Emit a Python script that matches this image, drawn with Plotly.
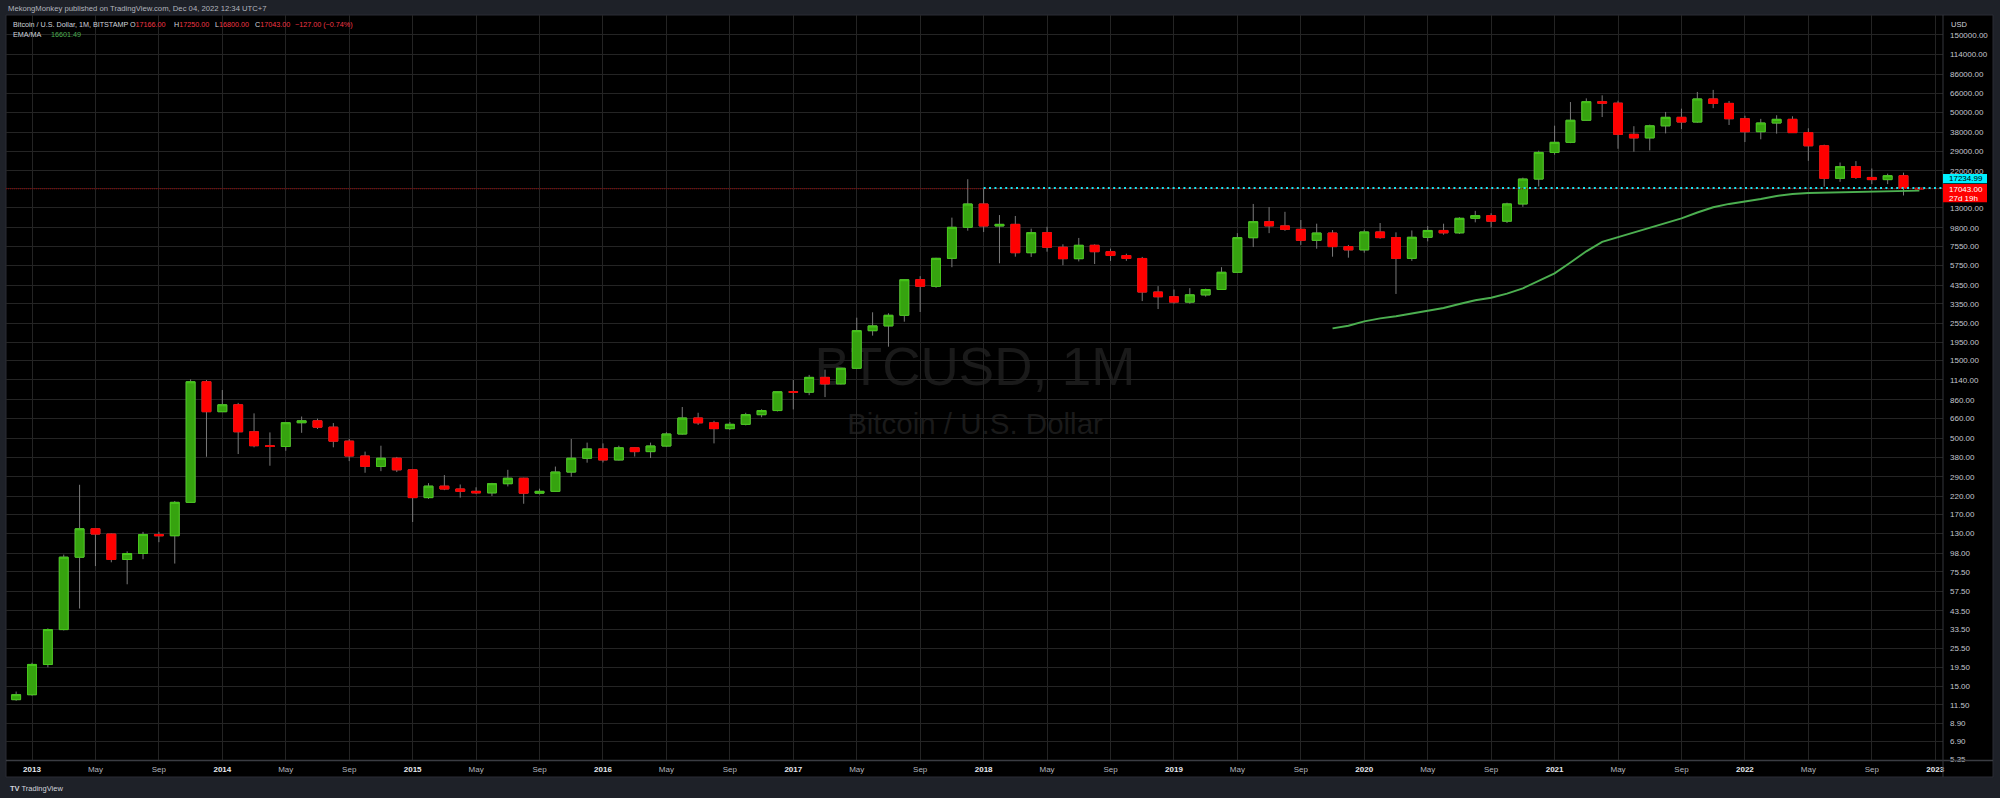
import plotly.graph_objects as go

# ---------------- data ----------------
months = [f"{y}-{m:02d}" for y in range(2012, 2023) for m in range(1, 13)][11:]  # 2012-12 .. 2022-12

opens = [12.4, 13.3, 20.4, 33.4, 93.0, 139, 129, 90, 98, 128,
         126, 202, 1112, 728, 803, 548, 450, 445, 623, 640,
         585, 480, 389, 336, 377, 320, 216, 254, 244, 236,
         231, 263, 284, 230, 236, 310, 377, 430, 368, 437,
         414, 448, 531, 666, 622, 573, 609, 698, 740, 965,
         960, 1183, 1079, 1346, 2290, 2450, 2846, 4710, 4290, 6370,
         9880, 13740, 10070, 10300, 6900, 9160, 7450, 6340, 7660, 7000,
         6630, 6360, 3955, 3700, 3430, 3800, 4100, 5230, 8530, 10700,
         10080, 9600, 8220, 9110, 7520, 7180, 9250, 8540, 6370, 8580,
         9450, 9140, 11220, 11650, 10780, 13750, 19550, 28500, 32870, 44900,
         58400, 57200, 36800, 35000, 41500, 46800, 43800, 60700, 57000, 45900,
         38200, 43200, 45500, 37700, 31300, 19760, 23300, 20000, 19400, 20500,
         17166]

highs = [13.9, 20.9, 34.0, 96.5, 259, 140, 130, 101, 133, 133,
         206, 1150, 1140, 989, 825, 711, 543, 630, 680, 660,
         620, 495, 414, 450, 384, 322, 265, 297, 260, 250,
         266, 320, 286, 245, 335, 495, 470, 465, 450, 440,
         470, 545, 778, 717, 640, 629, 717, 753, 970, 1140,
         1225, 1320, 1350, 2752, 2970, 2930, 4750, 4950, 6420, 11330,
         19500, 17150, 11750, 11600, 9700, 9950, 7770, 8500, 7770, 7300,
         6800, 6500, 4300, 4100, 4180, 4150, 5620, 9100, 13750, 13150,
         12300, 10950, 10400, 9500, 7700, 9550, 10500, 9200, 9450, 10050,
         10400, 11400, 12470, 12050, 14000, 19950, 29200, 41600, 58100, 61200,
         63900, 59200, 41300, 42200, 50500, 52900, 67000, 69000, 59000, 47900,
         45800, 48200, 47500, 40100, 31800, 24700, 25200, 22700, 21100, 21400,
         17250]

lows = [12.2, 13.1, 19.6, 33.0, 45, 82, 86.5, 63.4, 90.4, 115,
        85, 201, 385, 728, 400, 440, 339, 419, 540, 570,
        440, 362, 307, 314, 310, 153, 212, 240, 216, 227,
        221, 253, 198, 226, 234, 290, 354, 355, 365, 386,
        378, 443, 526, 604, 465, 562, 600, 673, 731, 752,
        920, 895, 1070, 1340, 2135, 1826, 2600, 2985, 4200, 5620,
        9420, 9250, 5940, 6520, 6500, 7000, 5780, 6100, 5880, 6140,
        6150, 3480, 3110, 3350, 3350, 3705, 4100, 5230, 7470, 9100,
        9400, 7700, 7300, 6520, 6430, 6900, 8400, 3850, 6150, 8100,
        8900, 8990, 10600, 9850, 10500, 13200, 17600, 27600, 32500, 44600,
        47000, 30000, 28800, 29300, 37300, 39600, 43300, 53300, 42000, 33000,
        34300, 37200, 37600, 25300, 17540, 18800, 19600, 18200, 18200, 15500,
        16800]

closes = [13.3, 20.4, 33.4, 93.0, 139, 129, 90, 98, 128, 126,
          202, 1112, 728, 803, 548, 450, 445, 623, 640, 585,
          480, 389, 336, 377, 320, 216, 254, 244, 236, 231,
          263, 284, 230, 236, 310, 377, 430, 368, 437, 414,
          448, 531, 666, 622, 573, 609, 698, 740, 965, 960,
          1183, 1079, 1346, 2290, 2450, 2846, 4710, 4290, 6370, 9880,
          13740, 10070, 10300, 6900, 9160, 7450, 6340, 7660, 7000, 6630,
          6360, 3955, 3700, 3430, 3800, 4100, 5230, 8530, 10700, 10080,
          9600, 8220, 9110, 7520, 7180, 9250, 8540, 6370, 8580, 9450,
          9140, 11220, 11650, 10780, 13750, 19550, 28500, 32870, 44900, 58400,
          57200, 36800, 35000, 41500, 46800, 43800, 60700, 57000, 45900, 38200,
          43200, 45500, 37700, 31300, 19760, 23300, 20000, 19400, 20500, 17170,
          17043]

ema_months = months[83:]
ema_values = [2367, 2455, 2612, 2727, 2806, 2910, 3036, 3155, 3339, 3519,
              3650, 3863, 4169, 4642, 5153, 6006, 7036, 8046, 8610, 9206,
              9857, 10580, 11220, 12180, 13120, 13750, 14200, 14750, 15390, 15820,
              16060, 16120, 16220, 16300, 16370, 16450, 16530, 16601.49]

price_ticks = [150000, 114000, 86000, 66000, 50000, 38000, 29000, 22000, 17000, 13000,
               9800, 7550, 5750, 4350, 3350, 2550, 1950, 1500, 1140, 860, 660, 500,
               380, 290, 220, 170, 130, 98, 75.5, 57.5, 43.5, 33.5, 25.5, 19.5, 15,
               11.5, 8.9, 6.9, 5.35]
hidden_ticks = [17000]

time_ticks = [f"{y}-{m:02d}" for y in range(2013, 2024) for m in (1, 5, 9)][:-2]
ray_start = "2018-01"
ray_level = 17234.99
ray_label = "17234.99"
close_label = "17043.00"
countdown = "27d 19h"
ema_label = "16601.49"

# ---------------- layout helpers ----------------
W, H = 2000, 798
PL, PR, PT, PB = 6, 1943, 15, 760


def px(X):
    return (X - PL) / (PR - PL)


def py(Y):
    return (PB - Y) / (PB - PT)


def month_index(s):
    y, m = int(s[:4]), int(s[5:7])
    return (y - 2012) * 12 + (m - 12)


x = [month_index(m) for m in months]
ema_x = [month_index(m) for m in ema_months]
tick_x = [month_index(m) for m in time_ticks]
tick_text = []
for m in time_ticks:
    if m.endswith("-01"):
        tick_text.append(f'<span style="color:#e6e8ee"><b>{m[:4]}</b></span>')
    elif m.endswith("-05"):
        tick_text.append("May")
    else:
        tick_text.append("Sep")

XR = [-0.64, 121.49]
YR = [0.7227, 5.2989]

FONT = "Liberation Sans, Arial, sans-serif"
GREEN_FILL = "#36a30f"
GREEN_LINE = "#47c91a"
RED = "#ff0000"
WICK = "#7a7a7a"
GRID = "#242424"

fig = go.Figure()

# wicks (full OHLC in grey)
fig.add_trace(go.Candlestick(
    x=x, open=opens, high=highs, low=lows, close=closes,
    increasing=dict(line=dict(color=WICK, width=1), fillcolor=WICK),
    decreasing=dict(line=dict(color=WICK, width=1), fillcolor=WICK),
    whiskerwidth=0, hoverinfo="skip", showlegend=False))

# bodies
fig.add_trace(go.Candlestick(
    x=x, open=opens, close=closes,
    high=[max(o, c) for o, c in zip(opens, closes)],
    low=[min(o, c) for o, c in zip(opens, closes)],
    increasing=dict(line=dict(color=GREEN_LINE, width=1), fillcolor=GREEN_FILL),
    decreasing=dict(line=dict(color=RED, width=1), fillcolor=RED),
    whiskerwidth=0, showlegend=False))

# EMA/MA line
fig.add_trace(go.Scatter(x=ema_x, y=ema_values, mode="lines",
                         line=dict(color="#4caf50", width=1.9), showlegend=False,
                         hoverinfo="skip"))

shapes = [
    # black chart panel
    dict(type="rect", xref="paper", yref="paper", x0=px(6), x1=px(1993), y0=py(777), y1=py(15),
         fillcolor="#000000", line=dict(color="#2a2d35", width=1), layer="below"),
    # watermark
    dict(type="rect", xref="paper", yref="paper", x0=px(700), x1=px(1250), y0=py(395), y1=py(327),
         fillcolor="rgba(0,0,0,0)", line=dict(width=0), layer="below",
         label=dict(text="BTCUSD, 1M", textposition="middle center",
                    font=dict(family=FONT, size=53, color="#1a1a1a"))),
    dict(type="rect", xref="paper", yref="paper", x0=px(700), x1=px(1250), y0=py(438), y1=py(404),
         fillcolor="rgba(0,0,0,0)", line=dict(width=0), layer="below",
         label=dict(text="Bitcoin / U.S. Dollar", textposition="middle center",
                    font=dict(family=FONT, size=29.5, color="#1a1a1a"))),
    # time axis separator & price axis separator
    dict(type="line", xref="paper", yref="paper", x0=px(6), x1=px(1993), y0=py(760.5), y1=py(760.5),
         line=dict(color="#3a3c42", width=1.5)),
    dict(type="line", xref="paper", yref="paper", x0=px(1943), x1=px(1943), y0=py(777), y1=py(15),
         line=dict(color="#34363c", width=1)),
    # last price line
    dict(type="line", xref="paper", yref="y", x0=0, x1=1, y0=closes[-1], y1=closes[-1],
         line=dict(color="#9a0000", width=1, dash="1px,1px")),
    # horizontal ray
    dict(type="line", xref="x", yref="y", x0=month_index(ray_start), x1=XR[1], y0=ray_level, y1=ray_level,
         line=dict(color="#19e3f0", width=2, dash="2px,3.4px")),
    # price axis labels
    dict(type="rect", xref="paper", yref="paper", x0=px(1943), x1=px(1987), y0=py(183.3), y1=py(174),
         fillcolor="#00f0ff", line=dict(width=0)),
    dict(type="rect", xref="paper", yref="paper", x0=px(1943), x1=px(1987), y0=py(202.3), y1=py(184),
         fillcolor=RED, line=dict(width=0)),
]


def ann(text, X, Y, size=7.2, color="#d1d4dc", anchor="left"):
    return dict(text=text, x=px(X), y=py(Y), xref="paper", yref="paper", xanchor=anchor,
                yanchor="middle", showarrow=False,
                font=dict(family=FONT, size=size, color=color))


VAL = "#f23645"
chg = closes[-1] - closes[-2]
pct = chg / closes[-2] * 100
annotations = [
    ann("MekongMonkey published on TradingView.com, Dec 04, 2022 12:34 UTC+7", 6, 9, 7.7, "#b2b5be"),
    ann("Bitcoin / U.S. Dollar, 1M, BITSTAMP", 11, 25),
    ann(f'O<span style="color:{VAL}">{opens[-1]:.2f}</span>', 128, 25),
    ann(f'H<span style="color:{VAL}">{highs[-1]:.2f}</span>', 172, 25),
    ann(f'L<span style="color:{VAL}">{lows[-1]:.2f}</span>', 213, 25),
    ann(f'C<span style="color:{VAL}">{closes[-1]:.2f}</span>', 253, 25),
    ann(f"\u2212{abs(chg):.2f} (\u2212{abs(pct):.2f}%)", 293, 25, 7.2, VAL),
    ann("EMA/MA", 11, 35),
    ann(ema_label, 49, 35, 7.2, "#4caf50"),
    ann("USD", 1949, 24, 7.5, "#d1d4dc"),
    ann(ray_label, 1947, 178.7, 8, "#000000"),
    ann(close_label, 1947, 189.6, 8, "#ffffff"),
    ann(countdown, 1947, 198, 8, "#ffffff"),
    ann("<b>TV</b> TradingView", 8, 788, 7.5, "#d1d4dc"),
]

fig.update_layout(
    width=W, height=H,
    margin=dict(l=PL, r=W - PR, t=PT, b=H - PB),
    paper_bgcolor="#1e2128", plot_bgcolor="#000000",
    showlegend=False, boxgap=0.2,
    shapes=shapes, annotations=annotations,
    font=dict(family=FONT, size=8, color="#b2b5be"),
    xaxis=dict(range=XR, tickmode="array", tickvals=tick_x, ticktext=tick_text,
               showgrid=True, gridcolor=GRID, gridwidth=1, zeroline=False, showline=False,
               ticks="", ticklabelstandoff=3, rangeslider=dict(visible=False),
               tickfont=dict(family=FONT, size=8, color="#b2b5be"), fixedrange=True),
    yaxis=dict(type="log", range=YR, side="right", tickmode="array", tickvals=price_ticks,
               ticktext=["" if v in hidden_ticks else f"{v:.2f}" for v in price_ticks],
               showgrid=True, gridcolor=GRID, gridwidth=1, zeroline=False, showline=False,
               ticks="", ticklabelstandoff=6,
               tickfont=dict(family=FONT, size=8, color="#c3c6ce"), fixedrange=True),
)

fig.write_html("out.html", config={"displayModeBar": False},
               post_script="document.body.style.margin='0';document.body.style.overflow='hidden';")
